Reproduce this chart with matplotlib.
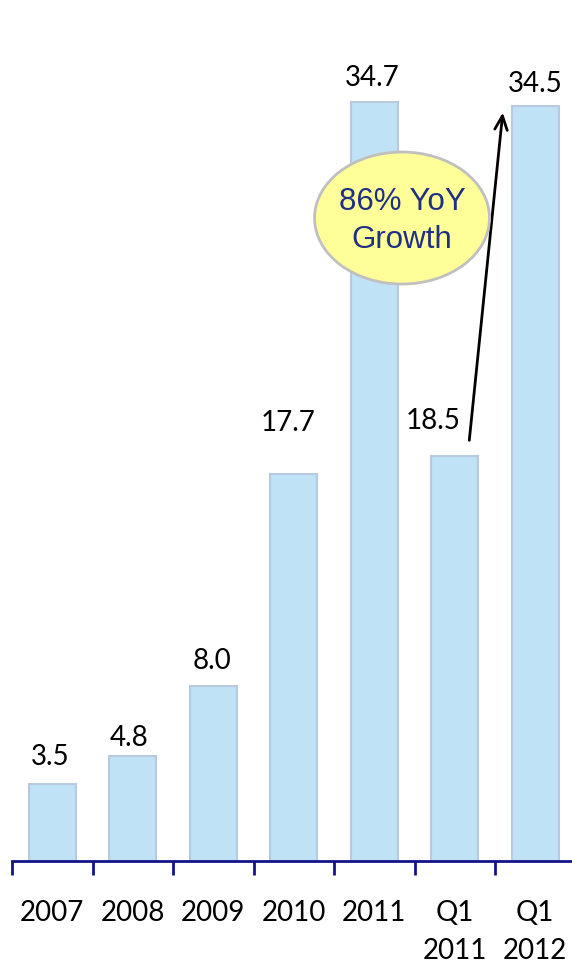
import matplotlib
matplotlib.use("Agg")
import matplotlib.pyplot as plt
from matplotlib.patches import Ellipse

categories = ["2007", "2008", "2009", "2010", "2011", "Q1\n2011", "Q1\n2012"]
values = [3.5, 4.8, 8.0, 17.7, 34.7, 18.5, 34.5]
value_labels = ["3.5", "4.8", "8.0", "17.7", "34.7", "18.5", "34.5"]

# label nudges (pixels) relative to each bar top
label_dx = [-2, -4, -1, -6, -2, -22, 0]
label_dy = [27, 18, 25, 51, 24, 35, 22]

W, H = 572, 973
fig = plt.figure(figsize=(W / 100, H / 100), dpi=100)
ax_left, ax_bottom = 12 / W, (H - 861) / H
ax = fig.add_axes([ax_left, ax_bottom, 1 - ax_left, 1 - ax_bottom])

navy = "#14148a"
font = "Lato"

ax.bar(range(len(values)), values, width=0.58, color="#bfe2f6",
       edgecolor="#b9c9de", linewidth=1.5, zorder=2)

ax.set_xlim(-0.5, -0.5 + 560 / 80.5)
ax.set_ylim(0, 861 / 21.87)

for s in ["top", "right", "left"]:
    ax.spines[s].set_visible(False)
ax.spines["bottom"].set_color(navy)
ax.spines["bottom"].set_linewidth(2)
ax.set_yticks([])

ax.set_xticks([i - 0.5 for i in range(len(values))])
ax.set_xticklabels([])
ax.tick_params(axis="x", which="major", direction="out", length=10,
               width=2, color=navy)
ax.set_xticks(range(len(values)), minor=True)
ax.set_xticklabels(categories, minor=True, fontsize=20, family=font,
                   linespacing=1.6)
ax.tick_params(axis="x", which="minor", length=0, pad=28)

for i, (v, lab) in enumerate(zip(values, value_labels)):
    ax.annotate(lab, xy=(i, v), xytext=(label_dx[i], label_dy[i]),
                textcoords="offset pixels", ha="center", va="center",
                fontsize=20, family=font, color="black")

# growth arrow from Q1 2011 to Q1 2012
ax.annotate("", xy=(5.6, 34.35), xytext=(5.177, 19.11),
            arrowprops=dict(arrowstyle="->,head_length=1.0,head_width=0.45",
                            color="black", lw=2))

ell = Ellipse((4.345, 29.4), width=175 / 80.5, height=132 / 21.87,
              facecolor="#ffff99", edgecolor="#c0c0c0", linewidth=2, zorder=4)
ax.add_patch(ell)
ax.text(4.345, 29.25, "86% YoY\nGrowth", ha="center", va="center",
        fontsize=22.5, family="Liberation Sans", color="#1f2f82",
        linespacing=1.35, zorder=5)

fig.savefig("out.png", dpi=100)
